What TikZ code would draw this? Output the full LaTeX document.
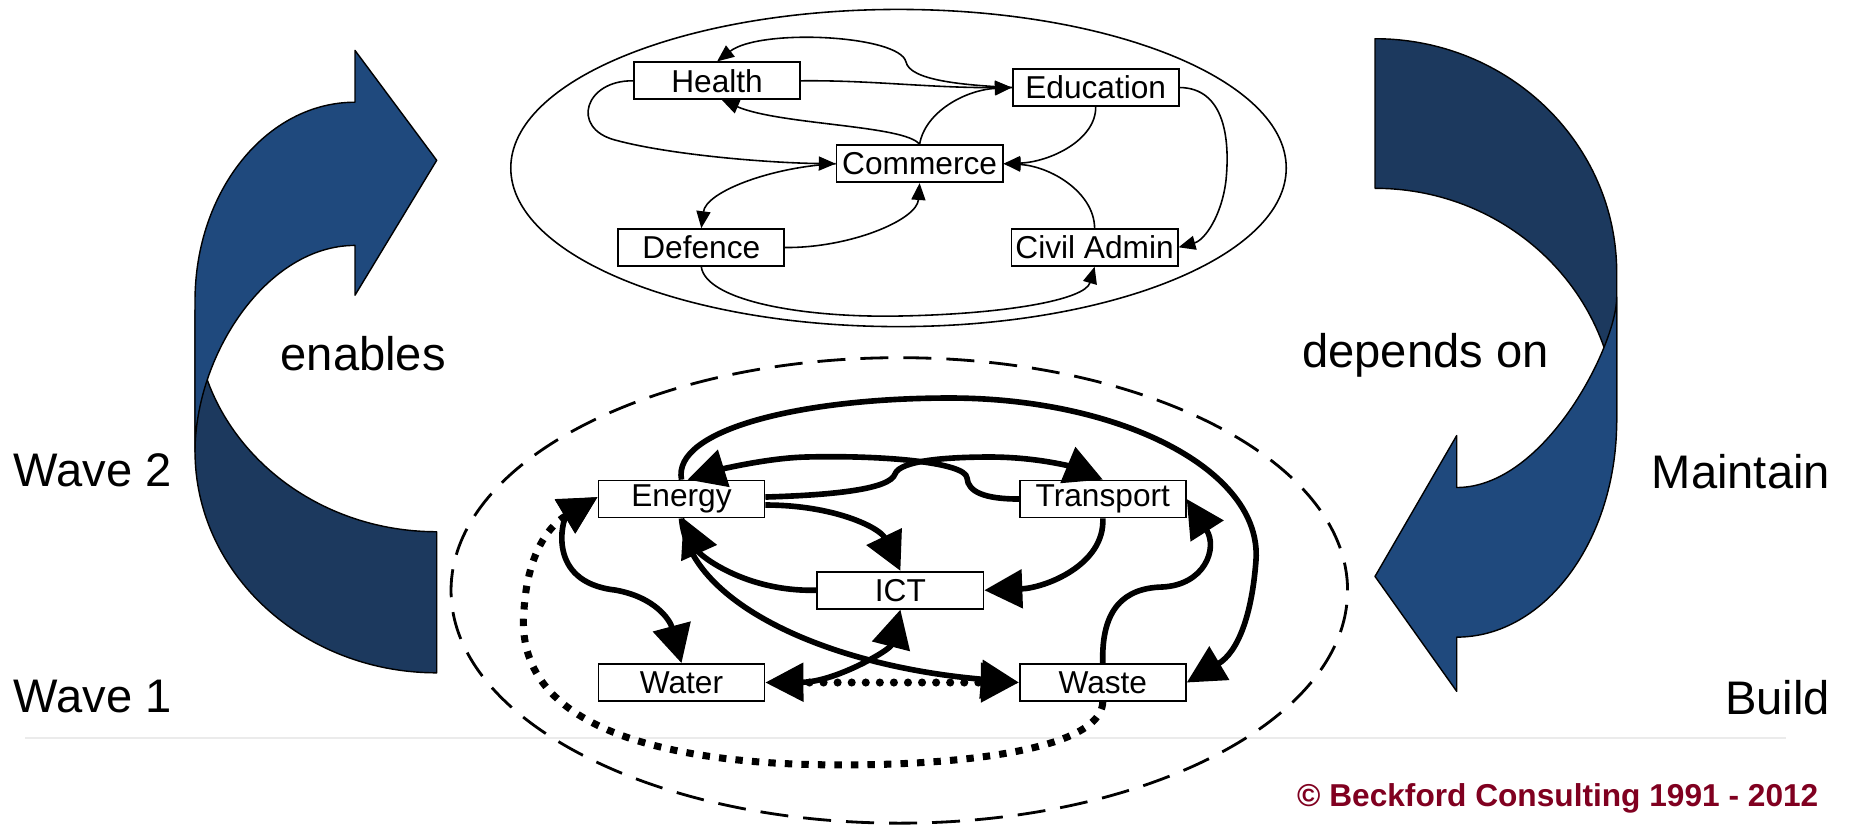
\documentclass[tikz,border=0pt]{standalone}
\usepackage{fontspec}
\setmainfont{Liberation Sans}
\usetikzlibrary{arrows.meta,calc}
\definecolor{arrlight}{RGB}{31,73,125}
\definecolor{arrdark}{RGB}{28,57,94}
\definecolor{copyred}{RGB}{128,0,32}
\newcommand{\lblfnt}{\fontsize{13.4pt}{16pt}\selectfont}
\newcommand{\nodefnt}{\fontsize{9pt}{11pt}\selectfont}
\newcommand{\crfnt}{\fontsize{9pt}{11pt}\selectfont\bfseries}
\begin{document}
\begin{tikzpicture}[x=0.01cm,y=-0.01cm,
  ubox/.style={draw, line width=0.5pt, fill=white, minimum width=1.66cm, minimum height=0.37cm, inner sep=0pt, font=\nodefnt},
  uarr/.style={line width=0.45pt, -{Triangle[length=4.8pt,width=4pt]}},
  larr/.style={line width=1.6pt, -{Triangle[length=10.8pt,width=10.8pt]}},
  larrb/.style={line width=1.6pt, {Triangle[length=10.8pt,width=10.8pt]}-{Triangle[length=10.8pt,width=10.8pt]}},
  dotr/.style={line width=2.3pt, line cap=round, dash pattern=on 0pt off 4pt, -{Triangle[length=10.8pt,width=10.8pt]}},
  dots/.style={line width=2pt, dash pattern=on 2.1pt off 2.6pt, -{Triangle[length=10.8pt,width=10.8pt]}},
  lbl/.style={inner sep=0pt, font=\lblfnt},
  band/.style={draw=black, line width=0.4pt, line join=round}
]
\fill[white] (0,0) rectangle (1852,826);
\useasboundingbox (0,0) rectangle (1852,826);

% left curved arrow
\path[band, fill=arrdark] (195,310) -- (195,451) .. controls (195,573.6) and (303.2,672.8) .. (436.7,672.8) -- (436.7,531.7) .. controls (303.2,531.7) and (195,432.4) .. (195,310) -- cycle;
\path[band, fill=arrlight] (195,452) -- (195,301) .. controls (195,191.1) and (266.6,102.2) .. (355,102.2) -- (355,50.4) -- (436.7,160.3) -- (355,295.2) -- (355,245.4) .. controls (266.6,245.4) and (195,355) .. (195,452) -- cycle;

% right curved arrow
\path[band, fill=arrdark] (1375,38.7) .. controls (1508.5,38.7) and (1616.7,143.5) .. (1616.7,272.8) -- (1616.7,422.4) .. controls (1616.7,293.1) and (1508.5,188.3) .. (1375,188.3) -- cycle;
\path[band, fill=arrlight] (1616.7,297) -- (1616.7,420.3) .. controls (1616.7,540) and (1545.1,637.1) .. (1456.7,637.1) -- (1456.7,691.3) -- (1375,576.4) -- (1456.7,435.5) -- (1456.7,487.5) .. controls (1545.1,487.5) and (1616.7,345) .. (1616.7,297) -- cycle;

% labels
\node[lbl, anchor=base west] (enables) at (280,370) {enables};
\node[lbl, anchor=base west] (wave2) at (13,486) {Wave 2};
\node[lbl, anchor=base west] (wave1) at (13,712.7) {Wave 1};
\node[lbl, anchor=base west] (depends) at (1301.5,367) {depends on};
\node[lbl, anchor=base east] (maintain) at (1830.6,488) {Maintain};
\node[lbl, anchor=base east] (build) at (1830.6,714) {Build};
\draw[black!8, line width=0.6pt] (25,738) -- (1786,738);
\node[inner sep=0pt, anchor=base east, font=\crfnt, text=copyred] (copy) at (1819,806.7) {© Beckford Consulting 1991 - 2012};

% upper ellipse
\draw[line width=0.45pt] (898.5,168) ellipse [x radius=3.875cm, y radius=1.585cm];
\node[ubox] (health) at (717.1,80.8) {Health};
\node[ubox] (educ) at (1095.7,87.5) {Education};
\node[ubox] (comm) at (919.6,163.7) {Commerce};
\node[ubox] (def) at (701.3,247.5) {Defence};
\node[ubox] (civ) at (1094.6,247.3) {Civil Admin};

\draw[uarr] (educ.west) .. controls (960,85) and (910,80) .. (906,62) .. controls (900,35) and (760,28) .. (health.north);
\draw[uarr] (health.east) .. controls (870,80) and (930,88) .. (educ.west);
\draw[uarr] (comm.north) .. controls (905,125) and (780,125) .. ($(health.south)+(5,0)$);
\draw[uarr] (comm.north) .. controls (925,112) and (965,90) .. (educ.west);
\draw[uarr] (health.west) .. controls (585,80) and (570,128) .. (615,140) .. controls (670,155) and (770,163) .. (comm.west);
\draw[uarr] (educ.south) .. controls (1096,140) and (1050,162) .. (comm.east);
\draw[uarr] (civ.north) .. controls (1094,192) and (1050,166) .. (comm.east);
\draw[uarr] (comm.west) .. controls (770,167) and (706,192) .. (def.north);
\draw[uarr] (def.east) .. controls (850,248) and (917,220) .. (comm.south);
\draw[uarr] (def.south) .. controls (706,300) and (800,318) .. (900,316) .. controls (1005,314) and (1085,300) .. (civ.south);
\draw[uarr] (educ.east) .. controls (1225,88) and (1230,140) .. (1226,180) .. controls (1222,215) and (1205,240) .. (civ.east);

% lower dashed ellipse
\draw[line width=0.8pt, dash pattern=on 0.28cm off 0.15cm] (899.3,590.4) ellipse [x radius=4.48cm, y radius=2.326cm];
\node[ubox] (energy) at (681.5,499) {Energy};
\node[ubox] (trans) at (1102.8,499) {Transport};
\node[ubox] (ict) at (900.4,590.2) {ICT};
\node[ubox] (water) at (681.5,682.5) {Water};
\node[ubox] (waste) at (1102.8,682.5) {Waste};

\draw[larr] (energy.north) .. controls (672,430) and (800,398) .. (950,398) .. controls (1120,398) and (1262,470) .. (1256,560) .. controls (1252,615) and (1238,652) .. (waste.east);
\draw[larr] ($(energy.east)+(0,-2)$) .. controls (835,495) and (890,489) .. (895,474) .. controls (900,460) and (950,457) .. (990,457) .. controls (1040,457) and (1075,468) .. (trans.north);
\draw[larr] (trans.west) .. controls (985,499) and (968,492) .. (967,478) .. controls (966,462) and (880,455) .. (806,457) .. controls (765,458) and (715,471) .. ($(energy.north)+(6,0)$);
\draw[larr] ($(energy.east)+(0,6)$) .. controls (835,505) and (880,528) .. (ict.north);
\draw[larr] (ict.west) .. controls (745,592) and (700,555) .. ($(energy.south)+(2,0)$);
\draw[larr] (trans.south) .. controls (1105,565) and (1045,588) .. (ict.east);
\draw[larrb] ($(energy.west)+(0,-2)$) .. controls (563,518) and (545,582) .. (615,590) .. controls (655,597) and (670,620) .. (water.north);
\draw[larrb] (water.east) .. controls (835,682) and (890,650) .. (ict.south);
\draw[dotr] ($(water.east)+(30,0)$) -- (waste.west);
\draw[larr] (energy.south) .. controls (688,600) and (820,665) .. (waste.west);
\draw[larr] (waste.north) .. controls (1101,608) and (1125,588) .. (1162,587) .. controls (1205,585) and (1218,548) .. (trans.east);
\draw[dots] (waste.south) .. controls (1100,765) and (860,770) .. (760,762) .. controls (610,750) and (515,705) .. (524,610) .. controls (527,560) and (545,528) .. ($(energy.west)+(0,-2)$);
\end{tikzpicture}
\end{document}
